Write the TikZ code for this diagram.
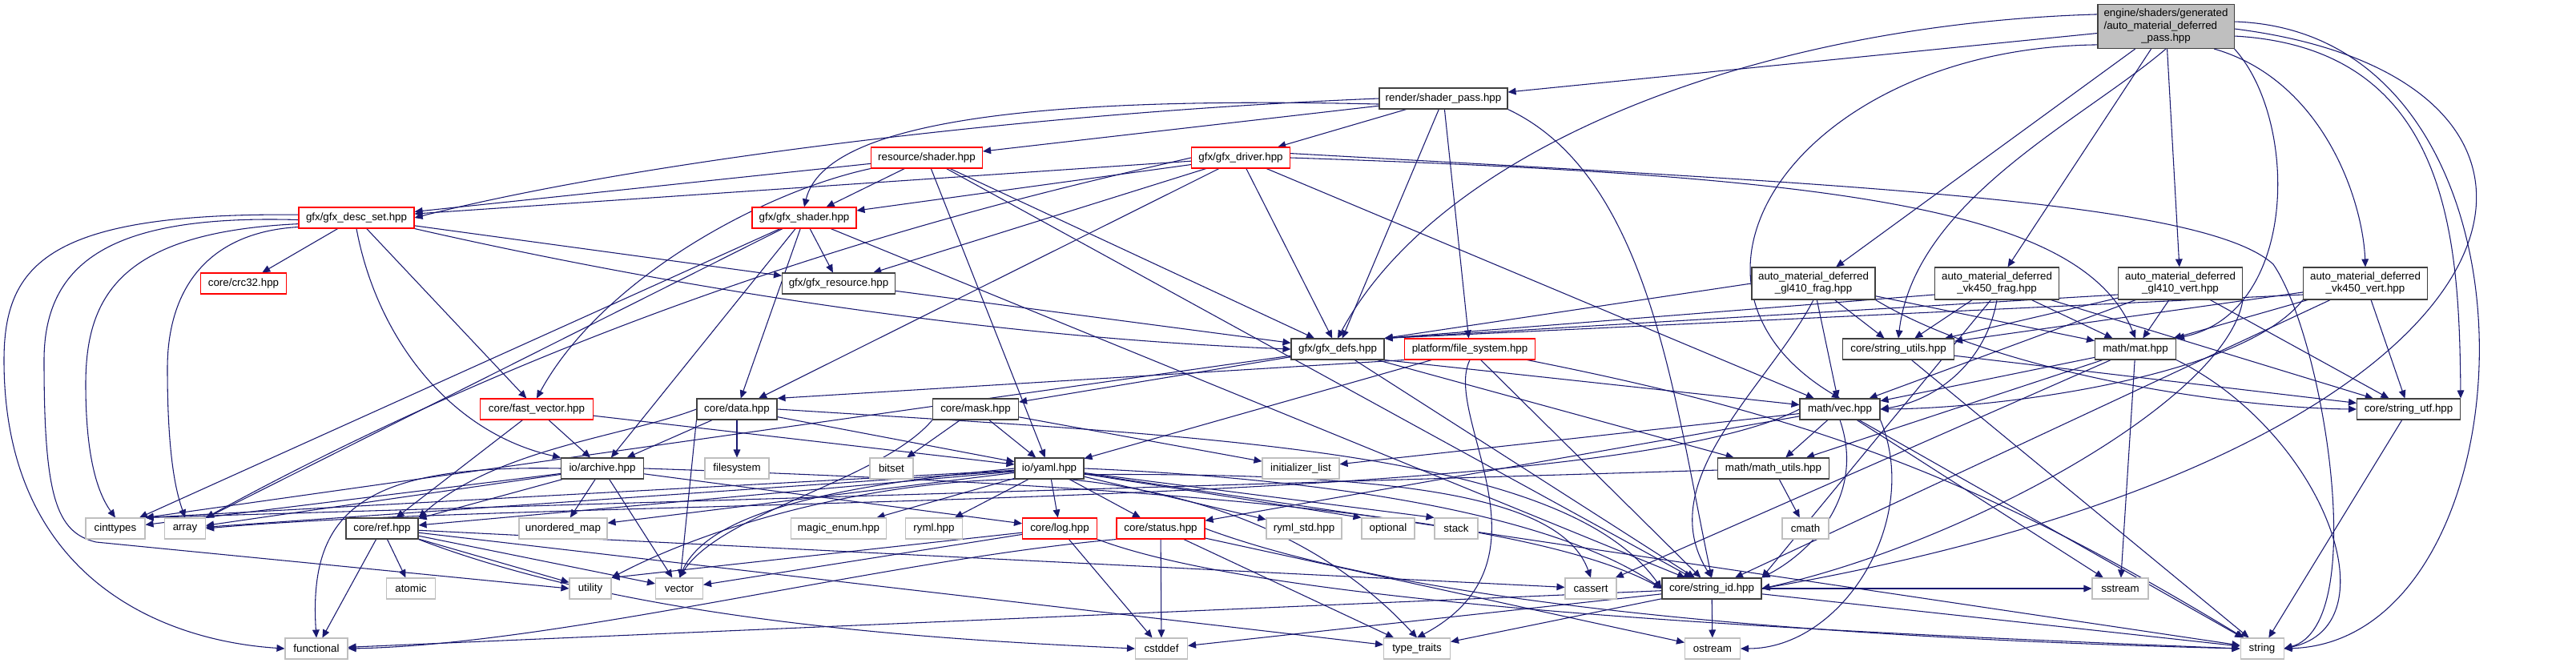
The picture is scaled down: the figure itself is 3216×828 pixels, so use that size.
\documentclass[tikz,border=0pt]{standalone}
\usepackage{fontspec}
\setmainfont{Liberation Sans}
\usetikzlibrary{arrows.meta,backgrounds}
\definecolor{edgec}{HTML}{191970}
\definecolor{sysb}{HTML}{BFBFBF}
\definecolor{docb}{HTML}{404040}
\definecolor{rootf}{HTML}{BFBFBF}
\tikzset{
  nd/.style={draw, fill=white, rectangle, inner sep=0pt, line width=0.8pt, minimum height=19.5pt, font=\fontsize{10}{11.3}\selectfont, text=black},
  doc/.style={nd, draw=docb},
  trn/.style={nd, draw=red},
  sys/.style={nd, draw=sysb},
  wd/.style={minimum width=#1*0.75pt},
  two/.style={minimum height=30pt, align=center},
  dep/.style={draw=edgec, line width=0.8pt, -{Triangle[length=7.5pt,width=6.5pt]}},
}
\begin{document}
\begin{tikzpicture}[x=0.75pt,y=-0.75pt]
\useasboundingbox (0,0) rectangle (3216,828);
% ---------------- nodes ----------------
\node[doc, fill=rootf, wd=170, minimum height=41.25pt] (root) at (2704,33) {\begin{tabular}{@{}l@{}}engine/shaders/generated\\/auto\_material\_deferred\\\multicolumn{1}{@{}c@{}}{\_pass.hpp}\end{tabular}};
\node[doc, wd=160] (shpass) at (1802,123) {render/shader\_pass.hpp};
\node[trn, wd=139] (resshader) at (1157,197) {resource/shader.hpp};
\node[trn, wd=123] (gfxdriver) at (1549,197) {gfx/gfx\_driver.hpp};
\node[trn, wd=144] (descset) at (445,272) {gfx/gfx\_desc\_set.hpp};
\node[trn, wd=130] (gfxshader) at (1004,272) {gfx/gfx\_shader.hpp};
\node[trn, wd=107] (crc32) at (304,354) {core/crc32.hpp};
\node[doc, wd=141] (gfxresource) at (1047,354) {gfx/gfx\_resource.hpp};
\node[doc, wd=116] (gfxdefs) at (1670,436) {gfx/gfx\_defs.hpp};
\node[trn, wd=163] (filesys) at (1835,436) {platform/file\_system.hpp};
\node[doc, two, wd=154] (glfrag) at (2264,354) {auto\_material\_deferred\\\_gl410\_frag.hpp};
\node[doc, two, wd=155] (vkfrag) at (2493,354) {auto\_material\_deferred\\\_vk450\_frag.hpp};
\node[doc, two, wd=155] (glvert) at (2722,354) {auto\_material\_deferred\\\_gl410\_vert.hpp};
\node[doc, two, wd=155] (vkvert) at (2953,354) {auto\_material\_deferred\\\_vk450\_vert.hpp};
\node[doc, wd=139] (strutils) at (2370,436) {core/string\_utils.hpp};
\node[doc, wd=101] (mat) at (2666,436) {math/mat.hpp};
\node[doc, wd=129] (strutf) at (3007,511) {core/string\_utf.hpp};
\node[doc, wd=100] (vec) at (2297,511) {math/vec.hpp};
\node[doc, wd=100] (data) at (920,511) {core/data.hpp};
\node[doc, wd=107] (mask) at (1218,511) {core/mask.hpp};
\node[trn, wd=141] (fastvec) at (670,511) {core/fast\_vector.hpp};
\node[doc, wd=103] (archive) at (752,585) {io/archive.hpp};
\node[doc, wd=86] (yaml) at (1310,585) {io/yaml.hpp};
\node[sys, wd=80] (filesystem) at (920,585) {filesystem};
\node[sys, wd=54] (bitset) at (1113,585) {bitset};
\node[sys, wd=96] (initlist) at (1624,585) {initializer\_list};
\node[doc, wd=139] (mathutils) at (2214,585) {math/math\_utils.hpp};
\node[sys, wd=74] (cinttypes) at (144,660) {cinttypes};
\node[sys, wd=51] (array) at (231,660) {array};
\node[doc, wd=90] (ref) at (477,660) {core/ref.hpp};
\node[sys, wd=110] (umap) at (703,660) {unordered\_map};
\node[sys, wd=119] (magicenum) at (1047,660) {magic\_enum.hpp};
\node[sys, wd=71] (ryml) at (1166,660) {ryml.hpp};
\node[trn, wd=93] (log) at (1323,660) {core/log.hpp};
\node[trn, wd=110] (status) at (1449,660) {core/status.hpp};
\node[sys, wd=94] (rymlstd) at (1628,660) {ryml\_std.hpp};
\node[sys, wd=66] (optional) at (1733,660) {optional};
\node[sys, wd=54] (stack) at (1818,660) {stack};
\node[sys, wd=58] (cmath) at (2254,660) {cmath};
\node[sys, wd=61] (atomic) at (513,735) {atomic};
\node[sys, wd=52] (utility) at (737,735) {utility};
\node[sys, wd=59] (vector) at (848,735) {vector};
\node[sys, wd=64] (cassert) at (1986,735) {cassert};
\node[doc, wd=124] (strid) at (2137,735) {core/string\_id.hpp};
\node[sys, wd=70] (sstream) at (2647,735) {sstream};
\node[sys, wd=78] (functional) at (395,810) {functional};
\node[sys, wd=65] (cstddef) at (1450,810) {cstddef};
\node[sys, wd=83] (typetraits) at (1769,810) {type\_traits};
\node[sys, wd=69] (ostream) at (2138,810) {ostream};
\node[sys, wd=54] (string) at (2824,810) {string};
% ---------------- edges ----------------
\begin{pgfonlayer}{background}
\fill[white] (0,0) rectangle (3216,828);
\foreach \a/\b in {root/shpass, root/glfrag, root/vkfrag, root/glvert,
  shpass/gfxdriver, shpass/gfxdefs, shpass/filesys, shpass/resshader,
  resshader/descset, resshader/gfxshader, resshader/yaml, resshader/gfxdefs, resshader/strid,
  gfxdriver/descset, gfxdriver/gfxresource, gfxdriver/gfxshader, gfxdriver/data, gfxdriver/gfxdefs, gfxdriver/vec,
  descset/crc32, descset/gfxresource, descset/fastvec,
  gfxshader/cinttypes, gfxshader/array, gfxshader/archive, gfxshader/data, gfxshader/gfxresource, gfxshader/strid,
  gfxresource/gfxdefs,
  gfxdefs/mask, gfxdefs/strid, gfxdefs/mathutils,
  filesys/yaml, filesys/strid,
  glfrag/strutils, glfrag/vec, glfrag/mat,
  vkfrag/strutils, vkfrag/mat, vkfrag/strutf,
  glvert/strutils, glvert/vec, glvert/mat, glvert/strutf,
  vkvert/strutils, vkvert/mat, vkvert/strutf, vkvert/strid,
  strutils/strutf, strutils/string, strutf/string,
  vec/initlist, vec/mathutils, vec/sstream, vec/string, vec/status,
  mat/vec, mat/mathutils, mat/cassert, mat/sstream,
  mathutils/cmath,
  data/archive, data/filesystem, data/yaml,
  mask/bitset, mask/yaml, mask/initlist,
  fastvec/archive, fastvec/yaml, fastvec/ref,
  archive/cinttypes, archive/array, archive/ref, archive/umap, archive/log, archive/vector,
  yaml/magicenum, yaml/ryml, yaml/log, yaml/status, yaml/rymlstd, yaml/umap, yaml/ref, yaml/string, yaml/array,
  ref/atomic, ref/functional, ref/utility, ref/vector, ref/typetraits, ref/cassert,
  log/vector, log/cstddef,
  status/cstddef, status/typetraits, status/ostream,
  strid/ostream, strid/string, strid/typetraits, strid/cstddef, strid/functional, strid/sstream}
  {\draw[dep] (\a) -- (\b);}
% anchored straight edges
\draw[dep] (gfxdefs) -- (cinttypes.north east);
\draw[dep] (gfxdefs.south east) -- (vec);
\draw[dep] (filesys.south west) -- (data.north east);
\draw[dep] (log) -- (utility.north east);
\draw[dep] (data.south west) -- (vector);
\draw[dep] (mathutils) -- (cinttypes.north east);
\draw[dep] (yaml) -- (cinttypes.north east);
\draw[dep] (yaml) -- (optional.north west);
\draw[dep] (yaml) -- (stack.north west);
\draw[dep] (vkfrag.250) -- (strid.north east);
\draw[dep] (glfrag.west) -- (gfxdefs.north east);
\draw[dep] ([yshift=-10.5pt]vkfrag.west) -- (gfxdefs.north east);
\draw[dep] ([yshift=-10.5pt]glvert.west) -- (gfxdefs.north east);
\draw[dep] ([yshift=-10.5pt]vkvert.west) -- (gfxdefs.north east);
% root curves
\draw[dep] (root.170) .. controls (2200,30) and (1800,180) .. (gfxdefs.north);
\draw[dep] (root.195) .. controls (2250,60) and (2050,350) .. (vec.north);
\draw[dep] (root.south) .. controls (2600,150) and (2390,250) .. (strutils.north);
\draw[dep] (root.south east) .. controls (2870,150) and (2870,390) .. (mat.north east);
\draw[dep] (root.-25) .. controls (2900,100) and (2950,250) .. (vkvert.north);
\draw[dep] (root.-8) .. controls (3060,60) and (3070,300) .. (strutf.north east);
\draw[dep] (root.4) .. controls (3200,40) and (3170,800) .. (string.east);
\draw[dep] (root.-2) .. controls (3300,100) and (3200,560) .. (strid.east);
% shader pass curves
\draw[dep] (shpass.west) .. controls (1300,140) and (800,200) .. (descset.east);
\draw[dep] (shpass.185) .. controls (1300,120) and (1030,150) .. (gfxshader.north);
\draw[dep] (shpass.south east) .. controls (2060,220) and (2090,500) .. (strid.north);
% resource shader
\draw[dep] (resshader.south west) .. controls (950,240) and (750,350) .. (fastvec.north);
% gfx driver
\draw[dep] (gfxdriver.east) .. controls (2300,220) and (2600,260) .. (mat.north);
\draw[dep] (gfxdriver.5) .. controls (2300,230) and (2750,250) .. (2838,330) .. controls (2900,420) and (2960,780) .. (string.east);
\draw[dep] (gfxdriver.west) .. controls (1300,240) and (800,350) .. (array.north east);
% desc set
\draw[dep] (descset.south east) .. controls (800,350) and (1200,420) .. (gfxdefs.west);
\draw[dep] (descset.south) .. controls (470,420) and (560,540) .. (archive.north west);
\draw[dep] (descset.177) .. controls (60,265) and (5,330) .. (5,450) .. controls (5,720) and (200,800) .. (functional.west);
\draw[dep] (descset.182) .. controls (150,268) and (55,320) .. (55,450) .. controls (55,620) and (70,665) .. (120,677) -- (utility.west);
\draw[dep] (descset.186) .. controls (150,290) and (107,370) .. (107,480) .. controls (107,580) and (125,620) .. (cinttypes.north);
\draw[dep] (descset.189) .. controls (260,290) and (209,360) .. (209,460) .. controls (209,580) and (222,620) .. (array.north);
% file system
\draw[dep] (filesys) to[bend left=10] (string);
\draw[dep] (filesys.south) .. controls (1800,520) and (1950,700) .. (typetraits.north);
% headers
\draw[dep] (glfrag.south east) .. controls (2500,470) and (2800,510) .. (strutf.west);
\draw[dep] (glfrag.south) .. controls (2210,480) and (2060,600) .. (strid.north);
\draw[dep] (vkfrag.south) .. controls (2480,450) and (2420,500) .. (vec.east);
\draw[dep] (glvert.south east) .. controls (2780,500) and (2450,680) .. (strid.east);
\draw[dep] (vkvert.south west) .. controls (2800,470) and (2500,510) .. (vec.east);
% vec, mat
\draw[dep] (vec.west) .. controls (2000,640) and (700,620) .. (array.east);
\draw[dep] (vec.south east) .. controls (2400,650) and (2300,810) .. (ostream.east);
\draw[dep] (vec.south) .. controls (2330,620) and (2260,690) .. (strid.north east);
\draw[dep] (mat.south east) .. controls (2900,540) and (2990,780) .. (string.east);
% data, mask
\draw[dep] (data.west) .. controls (780,545) and (620,560) .. (ref.north east);
\draw[dep] (data.east) .. controls (1500,545) and (1950,560) .. (strid.west);
\draw[dep] (mask.south west) .. controls (1100,600) and (900,640) .. (vector.north);
% archive
\draw[dep] (archive.west) .. controls (450,580) and (385,640) .. (functional.north);
\draw[dep] (archive.east) .. controls (1400,605) and (1900,640) .. (strid.west);
% yaml
\draw[dep] (yaml.west) .. controls (1000,610) and (880,650) .. (vector.north);
\draw[dep] (yaml.200) .. controls (1100,600) and (900,650) .. (utility.north east);
\draw[dep] (yaml.east) .. controls (1700,600) and (1950,650) .. (strid.west);
\draw[dep] (yaml.-10) .. controls (1750,590) and (1950,620) .. (cassert.north);
\draw[dep] (yaml.-30) .. controls (1550,620) and (1680,700) .. (typetraits.north);
% ref, log, status
\draw[dep] (ref.south east) .. controls (800,780) and (1200,800) .. (cstddef.west);
\draw[dep] (log.south east) .. controls (1600,760) and (2300,790) .. (string.west);
\draw[dep] (status.east) .. controls (1800,770) and (2400,800) .. (string.west);
\draw[dep] (status.south west) .. controls (1100,700) and (700,805) .. (functional.east);
\end{pgfonlayer}
\end{tikzpicture}
\end{document}
